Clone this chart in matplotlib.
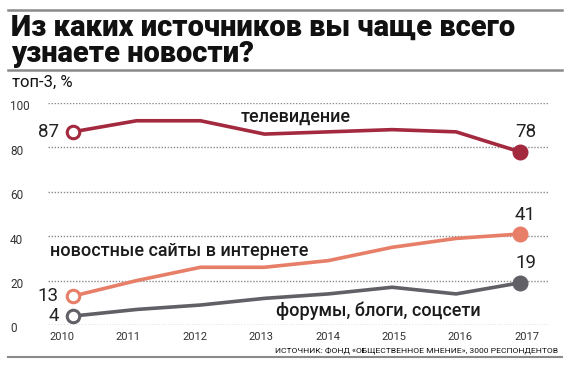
import matplotlib
matplotlib.use("Agg")
import matplotlib.pyplot as plt
import numpy as np

years = ["2010", "2011", "2012", "2013", "2014", "2015", "2016", "2017"]
tv = [87, 92, 92, 86, 87, 88, 87, 78]
news_sites = [13, 20, 26, 26, 29, 35, 39, 41]
forums = [4, 7, 9, 12, 14, 17, 14, 19]
yticks = [0, 20, 40, 60, 80, 100]

title_lines = ["Из каких источников вы чаще всего", "узнаете новости?"]
subtitle = "топ-3, %"
source = "ИСТОЧНИК: ФОНД «ОБЩЕСТВЕННОЕ МНЕНИЕ», 3000 РЕСПОНДЕНТОВ"

c_tv = "#a3293f"
c_news = "#e67e68"
c_forum = "#606066"
grey = "#8a8a8a"

W, H = 570, 368
fig = plt.figure(figsize=(W / 100, H / 100), dpi=100)
fig.patch.set_facecolor("white")

def fx(px):
    return px / W

def fy(py):
    return 1 - py / H

left_px, right_px = 48, 548
ppu = (520 - 72.7) / 7
xmin = -(72.7 - left_px) / ppu
xmax = 7 + (right_px - 520) / ppu
ax = fig.add_axes([fx(left_px), fy(325), fx(right_px - left_px), (325 - 103) / H])
ax.set_xlim(xmin, xmax)
ax.set_ylim(0, 100)
for s in ax.spines.values():
    s.set_visible(False)
ax.set_xticks([])
ax.set_yticks([])
for v in yticks:
    ax.axhline(v, color=grey, lw=1.0, ls=(0, (1, 1.2)), zorder=1)

x = np.arange(len(years))
lw = 2.6
for vals, col in [(tv, c_tv), (news_sites, c_news), (forums, c_forum)]:
    ax.plot(x, vals, color=col, lw=lw, zorder=3, solid_joinstyle="miter", clip_on=False)
    ax.plot(x[0], vals[0], "o", ms=9, mfc="white", mec=col, mew=2.2, zorder=4, clip_on=False)
    ax.plot(x[-1], vals[-1], "o", ms=10.5, mfc=col, mec=col, zorder=4, clip_on=False)

numfont = dict(family=["Roboto", "DejaVu Sans"], fontsize=13.5, color="#222222")
for vals in [tv, news_sites, forums]:
    ax.annotate(str(vals[0]), (x[0], vals[0]), xytext=(-10, 0), textcoords="offset points",
                ha="right", va="center", **numfont)
for vals in [tv, news_sites, forums]:
    ax.annotate(str(vals[-1]), (x[-1], vals[-1]), xytext=(4, 14), textcoords="offset points",
                ha="center", va="center", **numfont)

labfont = dict(family=["Roboto", "DejaVu Sans"], fontsize=13, color="#1a1a1a", weight="medium")
fig.text(fx(296), fy(117), "телевидение", ha="center", va="center", **labfont)
fig.text(fx(179), fy(251), "новостные сайты в интернете", ha="center", va="center", **labfont)
fig.text(fx(378), fy(311), "форумы, блоги, соцсети", ha="center", va="center", **labfont)

for v in yticks:
    py = 325 - v * (325 - 103) / 100 + 4
    fig.text(fx(10), fy(py), str(v), ha="left", va="center",
             family=["Roboto", "DejaVu Sans"], fontsize=8.5, color="#333333")

tick_pos = np.arange(len(years)) * (66.4 / ppu) - (72.7 - 62) / ppu
ylab = -(337 - 325) / ((325 - 103) / 100)
for tp, lab in zip(tick_pos, years):
    ax.text(tp, ylab, lab, ha="center", va="center",
            family=["Roboto", "DejaVu Sans"], fontsize=8, color="#333333")

fig.add_artist(plt.Line2D([fx(8), fx(562)], [fy(10), fy(10)], color=grey, lw=1.8))
fig.add_artist(plt.Line2D([fx(8), fx(562)], [fy(70), fy(70)], color=grey, lw=1.8))
fig.add_artist(plt.Line2D([fx(8), fx(562)], [fy(357), fy(357)], color=grey, lw=1.5))
for line, base in zip(title_lines, [35.5, 62]):
    fig.text(fx(11), fy(base), line, ha="left", va="baseline", family=["Roboto", "DejaVu Sans"],
             fontsize=21, weight="black", color="#111111")
fig.text(fx(12), fy(82), subtitle, ha="left", va="center", family=["Roboto", "DejaVu Sans"],
         fontsize=12, color="#111111")
fig.text(fx(558), fy(351), source, ha="right", va="center", family=["Roboto", "DejaVu Sans"],
         fontsize=6.1, color="#111111")

fig.savefig("out.png", dpi=100)
